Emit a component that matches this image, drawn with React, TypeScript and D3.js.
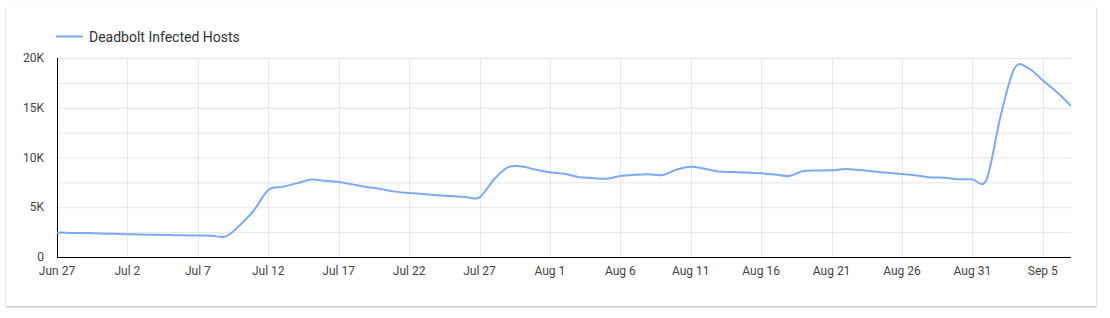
import React from "react";
import * as d3 from "d3";

const seriesName = "Deadbolt Infected Hosts";
const startDate = "2022-06-27";
const values: number[] = [
  // Jun 27 - Jul 9
  2450, 2420, 2400, 2370, 2330, 2290, 2260, 2230, 2200, 2180, 2160, 2140, 2070,
  // Jul 10 - Jul 27
  3220, 4720, 6730, 7050, 7400, 7770, 7670, 7540, 7300, 7040, 6830, 6570, 6430, 6330, 6200, 6130, 6030, 5990,
  // Jul 28 - Aug 12
  7740, 9000, 9100, 8770, 8510, 8370, 8040, 7940, 7860, 8140, 8260, 8320, 8240, 8790, 9080, 8860,
  // Aug 13 - Aug 31
  8590, 8540, 8490, 8410, 8290, 8140, 8640, 8690, 8710, 8840, 8740, 8590, 8470, 8330, 8200, 8000, 7970, 7820, 7800,
  // Sep 1 - Sep 7
  7780, 14170, 19000, 18950, 17740, 16580, 15180,
];
const yTicks = [0, 5000, 10000, 15000, 20000];
const yGrid = [0, 2500, 5000, 7500, 10000, 12500, 15000, 17500, 20000];
const xTickLabels = [
  "Jun 27", "Jul 2", "Jul 7", "Jul 12", "Jul 17", "Jul 22", "Jul 27", "Aug 1",
  "Aug 6", "Aug 11", "Aug 16", "Aug 21", "Aug 26", "Aug 31", "Sep 5",
];

const W = 1110;
const H = 318;
const M = { left: 57, right: 1071, top: 58, bottom: 257 };

export default function App() {
  const parse = d3.utcParse("%Y-%m-%d");
  const t0 = parse(startDate)!;
  const data = values.map((v, i) => ({ date: d3.utcDay.offset(t0, i), v }));
  const x = d3
    .scaleUtc()
    .domain([t0, d3.utcDay.offset(t0, values.length - 1)])
    .range([M.left, M.right]);
  const y = d3.scaleLinear().domain([0, 20000]).range([M.bottom, M.top]);
  const line = d3
    .line<{ date: Date; v: number }>()
    .x((d) => x(d.date))
    .y((d) => y(d.v))
    .curve(d3.curveCardinal.tension(0));
  const xTicks = xTickLabels.map((lab, i) => ({ lab, date: d3.utcDay.offset(t0, i * 5) }));
  const fmt = (v: number) => (v === 0 ? "0" : `${v / 1000}K`);
  const font = "Roboto, 'Noto Sans', sans-serif";

  return (
    <svg
      width={W}
      height={H}
      style={{ position: "absolute", left: 0, top: 0, background: "#fff" }}
      fontFamily={font}
    >
      <defs>
        <filter id="sh" x="-5%" y="-5%" width="110%" height="115%">
          <feDropShadow dx="0" dy="1" stdDeviation="1.2" floodColor="#000" floodOpacity="0.3" />
        </filter>
      </defs>
      <rect x={6} y={7} width={1090} height={299} fill="#fff" filter="url(#sh)" />
      {/* legend */}
      <line x1={56} x2={83} y1={36.5} y2={36.5} stroke="#7baaf7" strokeWidth={2} />
      <text x={89} y={41.5} fontSize={14} fill="#333">
        {seriesName}
      </text>
      {/* grid */}
      {yGrid.map((g) => (
        <line key={g} x1={M.left} x2={M.right} y1={y(g) + 0.5} y2={y(g) + 0.5} stroke="#e6e6e6" strokeWidth={1} />
      ))}
      {xTicks.map((t) => (
        <line
          key={t.lab}
          x1={Math.round(x(t.date)) + 0.5}
          x2={Math.round(x(t.date)) + 0.5}
          y1={M.top}
          y2={M.bottom}
          stroke="#e6e6e6"
          strokeWidth={1}
        />
      ))}
      {/* axes */}
      <line x1={M.left + 0.5} x2={M.left + 0.5} y1={M.top} y2={M.bottom + 1} stroke="#000" strokeWidth={1} />
      <line x1={M.left} x2={M.right} y1={M.bottom + 0.5} y2={M.bottom + 0.5} stroke="#000" strokeWidth={1} />
      {yTicks.map((t) => (
        <text key={t} x={44} y={y(t) + 4} textAnchor="end" fontSize={12} fill="#444">
          {fmt(t)}
        </text>
      ))}
      {xTicks.map((t) => (
        <text key={t.lab} x={x(t.date)} y={275} textAnchor="middle" fontSize={12} fill="#444">
          {t.lab}
        </text>
      ))}
      <path d={line(data) || ""} fill="none" stroke="#7baaf7" strokeWidth={2} />
    </svg>
  );
}
